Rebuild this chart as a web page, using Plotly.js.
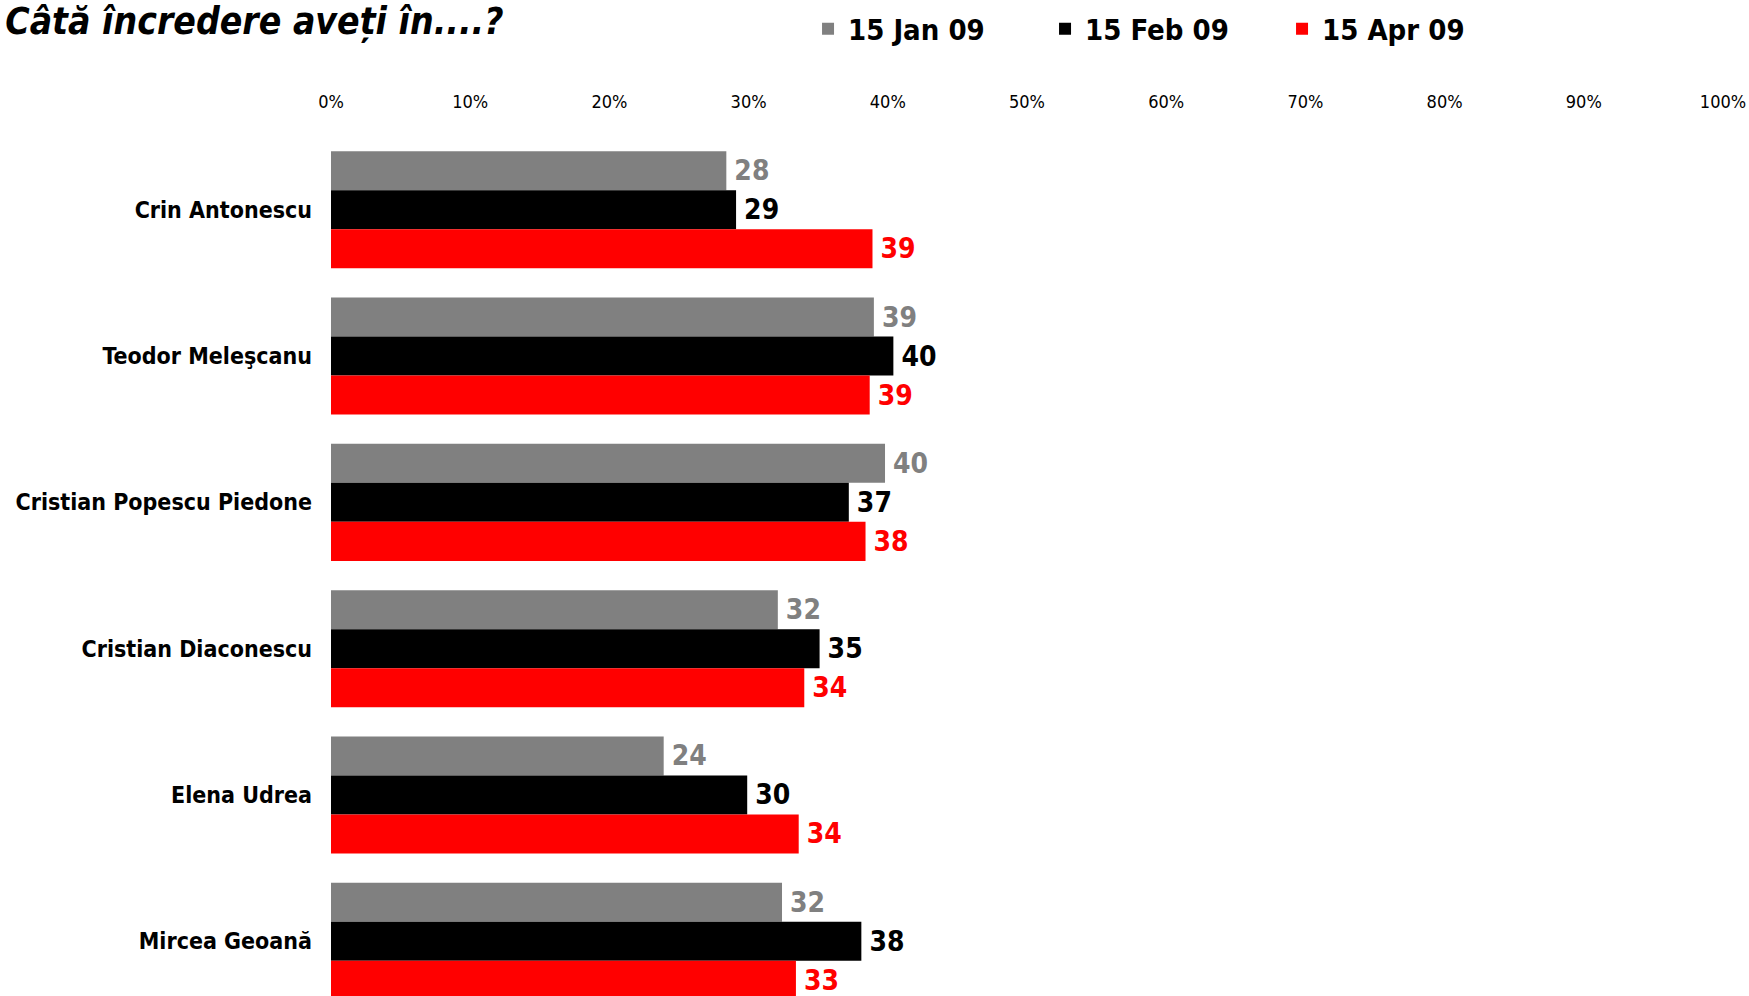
<!DOCTYPE html>
<html>
<head>
<meta charset="utf-8">
<script src="https://cdn.plot.ly/plotly-3.0.1.min.js"></script>
<style>
html,body{margin:0;padding:0;background:#fff;}
#chart{width:1749px;height:996px;}
text{font-stretch:condensed !important;}
</style>
</head>
<body>
<div id="chart"></div>
<script>
var categories = ["Crin Antonescu", "Teodor Meleşcanu", "Cristian Popescu Piedone", "Cristian Diaconescu", "Elena Udrea", "Mircea Geoană"];
var seriesNames = ["15 Jan 09", "15 Feb 09", "15 Apr 09"];
var jan09 = [28.4, 39.0, 39.8, 32.1, 23.9, 32.4];
var feb09 = [29.1, 40.4, 37.2, 35.1, 29.9, 38.1];
var apr09 = [38.9, 38.7, 38.4, 34.0, 33.6, 33.4];
var colors = ["#808080", "#000000", "#FF0000"];
var tickVals = [0, 10, 20, 30, 40, 50, 60, 70, 80, 90, 100];
var tickText = ["0%", "10%", "20%", "30%", "40%", "50%", "60%", "70%", "80%", "90%", "100%"];

var FONT = "'DejaVu Sans', sans-serif";

var seriesValues = [jan09, feb09, apr09];
var traces = seriesValues.map(function (vals, i) {
  return {
    type: "bar",
    orientation: "h",
    name: seriesNames[i],
    x: vals,
    y: categories,
    marker: {color: colors[i], line: {width: 0}},
    texttemplate: "\u2009%{x:.0f}",
    textposition: "outside",
    constraintext: "none",
    cliponaxis: true,
    outsidetextfont: {family: FONT, size: 28, color: colors[i], weight: "bold"},
    hoverinfo: "x+y+name"
  };
});

var layout = {
  width: 1749,
  height: 996,
  paper_bgcolor: "#ffffff",
  plot_bgcolor: "#ffffff",
  margin: {l: 331, r: 26, t: 118, b: 0, pad: 0},
  barmode: "group",
  bargap: 0.2,
  bargroupgap: 0,
  title: {
    text: "<i>Câtă încredere aveți în....?</i>",
    font: {family: FONT, size: 37, color: "#000", weight: "bold"},
    xref: "container", yref: "container",
    x: 0.003, xanchor: "left",
    y: 0.979, yanchor: "middle"
  },
  showlegend: true,
  legend: {
    orientation: "h",
    xref: "container", yref: "container",
    x: 0.462, xanchor: "left",
    y: 1 - 29 / 996, yanchor: "middle",
    font: {family: FONT, size: 29, color: "#000", weight: "bold"},
    entrywidth: 192,
    entrywidthmode: "pixels",
    traceorder: "normal",
    bgcolor: "rgba(0,0,0,0)"
  },
  xaxis: {
    side: "top",
    range: [0, 100],
    tickvals: tickVals,
    ticktext: tickText,
    showgrid: false,
    zeroline: false,
    showline: false,
    ticks: "",
    ticklabelstandoff: 5,
    tickfont: {family: FONT, size: 18, color: "#000"},
    fixedrange: true
  },
  yaxis: {
    type: "category",
    categoryorder: "array",
    categoryarray: categories,
    range: [5.374, -0.627],
    showgrid: false,
    zeroline: false,
    showline: false,
    ticks: "",
    ticklabelstandoff: 18,
    tickfont: {family: FONT, size: 23, color: "#000", weight: "bold"},
    fixedrange: true
  },
  font: {family: FONT}
};

Plotly.newPlot("chart", traces, layout, {displayModeBar: false, staticPlot: true});
</script>
</body>
</html>
